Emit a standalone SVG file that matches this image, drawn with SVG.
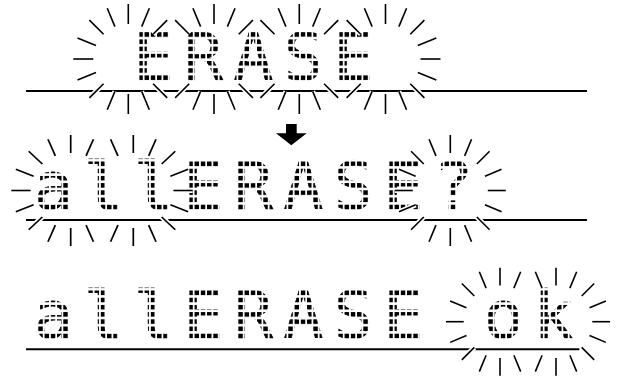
<svg xmlns="http://www.w3.org/2000/svg" width="620" height="382" viewBox="0 0 620 382">
<style>
  .base{stroke:#000;stroke-width:2;fill:none}
  .lcd{font-family:"DejaVu Sans Mono","Liberation Mono",monospace;font-size:66px;fill:#000;stroke:#000;stroke-width:0.8;text-anchor:middle}
  .halo{stroke:#fff;stroke-width:5;fill:none}
  .ray{stroke:#000;stroke-width:1.6;fill:none}
  .arrow{fill:#000;stroke:none}
</style>
<defs>
  <pattern id="dots" patternUnits="userSpaceOnUse" x="138.3" y="32.2" width="6.25" height="7.2">
    <rect width="4.5" height="4.6" fill="#fff"/>
  </pattern>
  <mask id="m1" maskUnits="userSpaceOnUse" x="0" y="0" width="620" height="382">
    <rect x="0" y="20" width="620" height="66" fill="url(#dots)"/>
  </mask>
  <mask id="m2" maskUnits="userSpaceOnUse" x="0" y="0" width="620" height="382">
    <rect x="0" y="20" width="620" height="66" fill="url(#dots)" transform="translate(0 129.3)"/>
  </mask>
  <mask id="m3" maskUnits="userSpaceOnUse" x="0" y="0" width="620" height="382">
    <rect x="0" y="20" width="620" height="66" fill="url(#dots)" transform="translate(0 258.3)"/>
  </mask>

  <line id="ra" x1="35" y1="0" x2="55" y2="0"/>
  <line id="rb" x1="37.5" y1="0" x2="55.5" y2="0"/>
  <line id="rc" x1="36.3" y1="0" x2="54" y2="0"/>

  <!-- line 1 ray sets -->
  <g id="L1">
    <use href="#ra" transform="rotate(-45)"/>
    <use href="#ra" transform="rotate(-67.5)"/>
    <use href="#ra" transform="rotate(-90)"/>
    <use href="#ra" transform="rotate(-112.5)"/>
    <use href="#ra" transform="rotate(-135)"/>
    <use href="#ra" transform="rotate(-157.5)"/>
    <use href="#ra" transform="rotate(-180)"/>
    <use href="#ra" transform="rotate(-202.5)"/>
    <use href="#ra" transform="rotate(-225)"/>
    <use href="#ra" transform="rotate(-247.5)"/>
    <use href="#ra" transform="rotate(-270)"/>
    <use href="#ra" transform="rotate(-292.5)"/>
    <use href="#ra" transform="rotate(-315)"/>
  </g>
  <g id="M1">
    <use href="#ra" transform="rotate(-45)"/>
    <use href="#ra" transform="rotate(-67.5)"/>
    <use href="#ra" transform="rotate(-90)"/>
    <use href="#ra" transform="rotate(-112.5)"/>
    <use href="#ra" transform="rotate(-135)"/>
    <use href="#ra" transform="rotate(-225)"/>
    <use href="#ra" transform="rotate(-247.5)"/>
    <use href="#ra" transform="rotate(-270)"/>
    <use href="#ra" transform="rotate(-292.5)"/>
    <use href="#ra" transform="rotate(-315)"/>
  </g>
  <g id="R1">
    <use href="#ra" transform="rotate(0)"/>
    <use href="#ra" transform="rotate(-22.5)"/>
    <use href="#ra" transform="rotate(-45)"/>
    <use href="#ra" transform="rotate(-67.5)"/>
    <use href="#ra" transform="rotate(-90)"/>
    <use href="#ra" transform="rotate(-112.5)"/>
    <use href="#ra" transform="rotate(-135)"/>
    <use href="#ra" transform="rotate(-225)"/>
    <use href="#ra" transform="rotate(-247.5)"/>
    <use href="#ra" transform="rotate(-270)"/>
    <use href="#ra" transform="rotate(-292.5)"/>
    <use href="#ra" transform="rotate(-315)"/>
    <use href="#ra" transform="rotate(-337.5)"/>
  </g>

  <!-- line 2 ray sets -->
  <g id="A2">
    <use href="#rb" transform="rotate(-67.5)"/>
    <use href="#rb" transform="rotate(-90)"/>
    <use href="#rb" transform="rotate(-112.5)"/>
    <use href="#rb" transform="rotate(-135)"/>
    <use href="#rb" transform="rotate(-157.5)"/>
    <use href="#rb" transform="rotate(-180)"/>
    <use href="#rb" transform="rotate(-202.5)"/>
    <use href="#rb" transform="rotate(-225)"/>
    <use href="#rb" transform="rotate(-247.5)"/>
    <use href="#rb" transform="rotate(-270)"/>
    <use href="#rb" transform="rotate(-292.5)"/>
  </g>
  <g id="B2">
    <use href="#rb" transform="rotate(-247.5)"/>
    <use href="#rb" transform="rotate(-270)"/>
    <use href="#rb" transform="rotate(-292.5)"/>
    <use href="#rb" transform="rotate(-315)"/>
    <use href="#rb" transform="rotate(-337.5)"/>
    <use href="#rb" transform="rotate(0)"/>
    <use href="#rb" transform="rotate(-22.5)"/>
    <use href="#rb" transform="rotate(-45)"/>
    <use href="#rb" transform="rotate(-67.5)"/>
    <use href="#rb" transform="rotate(-90)"/>
    <use href="#rb" transform="rotate(-112.5)"/>
  </g>
  <g id="F2">
    <use href="#rb" transform="rotate(0)"/>
    <use href="#rb" transform="rotate(-22.5)"/>
    <use href="#rb" transform="rotate(-45)"/>
    <use href="#rb" transform="rotate(-67.5)"/>
    <use href="#rb" transform="rotate(-90)"/>
    <use href="#rb" transform="rotate(-112.5)"/>
    <use href="#rb" transform="rotate(-135)"/>
    <use href="#rb" transform="rotate(-157.5)"/>
    <use href="#rb" transform="rotate(-180)"/>
    <use href="#rb" transform="rotate(-202.5)"/>
    <use href="#rb" transform="rotate(-225)"/>
    <use href="#rb" transform="rotate(-247.5)"/>
    <use href="#rb" transform="rotate(-270)"/>
    <use href="#rb" transform="rotate(-292.5)"/>
    <use href="#rb" transform="rotate(-315)"/>
    <use href="#rb" transform="rotate(-337.5)"/>
  </g>

  <!-- line 3 ray sets -->
  <g id="A3">
    <use href="#rc" transform="rotate(-67.5)"/>
    <use href="#rc" transform="rotate(-90)"/>
    <use href="#rc" transform="rotate(-112.5)"/>
    <use href="#rc" transform="rotate(-135)"/>
    <use href="#rc" transform="rotate(-157.5)"/>
    <use href="#rc" transform="rotate(-180)"/>
    <use href="#rc" transform="rotate(-202.5)"/>
    <use href="#rc" transform="rotate(-225)"/>
    <use href="#rc" transform="rotate(-247.5)"/>
    <use href="#rc" transform="rotate(-270)"/>
    <use href="#rc" transform="rotate(-292.5)"/>
  </g>
  <g id="B3">
    <use href="#rc" transform="rotate(-247.5)"/>
    <use href="#rc" transform="rotate(-270)"/>
    <use href="#rc" transform="rotate(-292.5)"/>
    <use href="#rc" transform="rotate(-315)"/>
    <use href="#rc" transform="rotate(-337.5)"/>
    <use href="#rc" transform="rotate(0)"/>
    <use href="#rc" transform="rotate(-22.5)"/>
    <use href="#rc" transform="rotate(-45)"/>
    <use href="#rc" transform="rotate(-67.5)"/>
    <use href="#rc" transform="rotate(-90)"/>
    <use href="#rc" transform="rotate(-112.5)"/>
  </g>

  <g id="burst1">
    <use href="#L1" x="128.3" y="59"/>
    <use href="#M1" x="214" y="59"/>
    <use href="#M1" x="299.3" y="59"/>
    <use href="#R1" x="385.5" y="59"/>
  </g>
  <g id="burst2">
    <use href="#A2" transform="translate(70.7 190.5) scale(1.07 1)"/>
    <use href="#B2" transform="translate(133.3 190.5) scale(1.07 1)"/>
    <use href="#F2" x="450.3" y="190.5"/>
  </g>
  <g id="burst3">
    <use href="#A3" x="500" y="321.7"/>
    <use href="#B3" x="556" y="321.7"/>
  </g>
</defs>

<rect x="0" y="0" width="620" height="382" fill="#fff"/>

<g id="display-erase">
  <line class="base" x1="26" y1="91" x2="587" y2="91"/>
  <text class="lcd" x="153.3 203.3 253.3 303.3 353.3" y="79.6" mask="url(#m1)">ERASE</text>
  <use href="#burst1" class="halo"/>
  <use href="#burst1" class="ray"/>
</g>

<g id="display-allerase-question">
  <line class="base" x1="26" y1="220" x2="587" y2="220"/>
  <text class="lcd" x="53.3 103.3 153.3 203.3 253.3 303.3 353.3 403.3 453.3" y="208.9" mask="url(#m2)">allERASE?</text>
  <use href="#burst2" class="halo"/>
  <use href="#burst2" class="ray"/>
</g>

<g id="display-allerase-ok">
  <line class="base" x1="26" y1="349.3" x2="579.3" y2="349.3"/>
  <text class="lcd" x="53.3 103.3 153.3 203.3 253.3 303.3 353.3 403.3 453.3 503.3 553.3" y="337.9" mask="url(#m3)">allERASE ok</text>
  <use href="#burst3" class="halo"/>
  <use href="#burst3" class="ray"/>
</g>

<g id="connectors">
  <polygon class="arrow" points="286,124 296.7,124 296.7,133.3 306.7,133.3 291.3,145.3 276,133.3 286,133.3"/>
</g>
</svg>
